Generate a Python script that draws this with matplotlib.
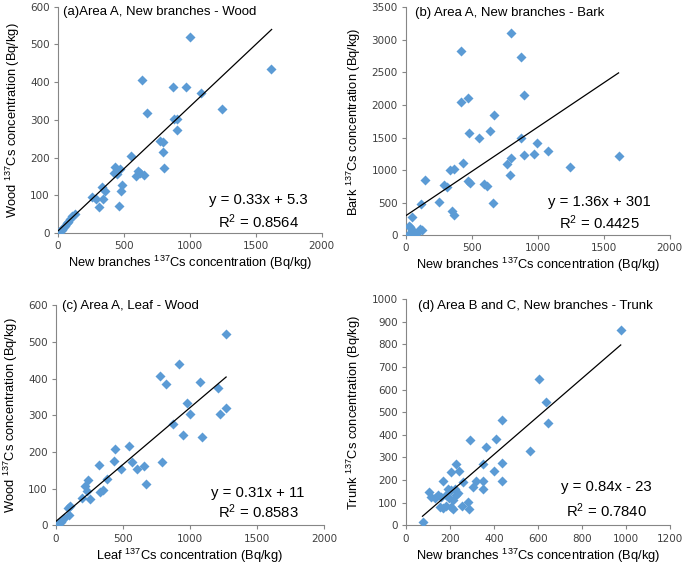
"""
Scatter plots of 137Cs concentrations between tree parts, with linear fits.
"""
import matplotlib
matplotlib.use("Agg")
import matplotlib.pyplot as plt

plt.rcParams["font.family"] = ["Liberation Sans", "DejaVu Sans"]
plt.rcParams["mathtext.default"] = "regular"

# (a) new branches vs wood
a_x = [1000, 1613, 640, 873, 970, 1081, 1240, 672, 879, 899, 899, 773, 793, 798, 806,
       551, 432, 470, 424, 444, 591, 609, 620, 654, 482, 475, 464, 331, 356, 343, 313,
       255, 288, 129, 104, 78, 53, 28, 10, 18, 40, 65, 90, 5]
a_y = [519, 436, 406, 388, 386, 372, 330, 319, 303, 303, 273, 245, 240, 214, 172,
       205, 176, 170, 160, 157, 152, 163, 158, 154, 126, 110, 72, 121, 110, 89, 70,
       95, 90, 50, 45, 30, 19, 8, 1, 4, 14, 25, 38, 2]
a_fit = (0.33, 5.3, 0, 1620)

# (b) new branches vs bark
b_x = [799, 418, 875, 893, 420, 468, 668, 476, 552, 635, 870, 991, 1080, 971, 898,
       797, 768, 788, 1246, 1612, 434, 333, 364, 144, 472, 485, 288, 308, 591, 616,
       657, 250, 111, 346, 364, 43, 30, 45, 36, 58, 104, 88, 119, 53, 15, 20]
b_y = [3110, 2826, 2742, 2151, 2048, 2100, 1840, 1575, 1498, 1602, 1498, 1410, 1296,
       1244, 1229, 1193, 1091, 917, 1044, 1218, 1111, 998, 1014, 855, 829, 804, 768,
       733, 779, 753, 487, 512, 476, 369, 307, 281, 118, 77, 26, 51, 90, 51, 77, 0,
       0, 140]
b_fit = (1.36, 301, 0, 1612)

# (c) leaf vs wood
c_x = [1267, 919, 775, 820, 1078, 1210, 975, 999, 1227, 1267, 876, 950, 1091, 789,
       547, 440, 433, 570, 323, 485, 607, 657, 672, 378, 328, 348, 216, 241, 229,
       192, 254, 104, 92, 99, 42, 25, 15, 5, 35, 60]
c_y = [521, 439, 407, 386, 390, 374, 333, 303, 304, 321, 276, 246, 241, 173, 216,
       207, 176, 173, 164, 155, 154, 162, 113, 126, 92, 96, 107, 124, 94, 74, 72,
       53, 46, 28, 14, 5, 2, 1, 9, 20]
c_fit = (0.31, 11, 0, 1270)

# (d) new branches vs trunk, areas B and C
d_x = [977, 605, 635, 644, 439, 565, 409, 364, 291, 435, 438, 402, 349, 349, 349,
       306, 318, 227, 203, 242, 167, 258, 104, 112, 132, 147, 160, 180, 190, 205,
       225, 236, 195, 215, 228, 155, 168, 183, 205, 213, 255, 281, 288, 78]
d_y = [864, 645, 547, 454, 465, 330, 380, 347, 377, 274, 197, 242, 270, 197, 159,
       171, 196, 271, 236, 239, 196, 190, 147, 127, 119, 134, 124, 132, 162, 156,
       162, 144, 119, 112, 134, 82, 75, 85, 80, 72, 85, 104, 71, 13]
d_fit = (0.84, -23, 75, 977)

panels = [
    dict(x=a_x, y=a_y, fit=a_fit, r2="0.8564", eq="y = 0.33x + 5.3",
         title="(a)Area A, New branches - Wood",
         xlabel="New branches $^{137}$Cs concentration (Bq/kg)",
         ylabel="Wood $^{137}$Cs concentration (Bq/kg)",
         xlim=(0, 2000), xstep=500, ylim=(0, 600), ystep=100,
         rect=[0.0847, 0.590, 0.385, 0.398], tpos=(0.02, 0.978), epos=(0.761, 0.146, 0.049)),
    dict(x=b_x, y=b_y, fit=b_fit, r2="0.4425", eq="y = 1.36x + 301",
         title="(b) Area A, New branches - Bark",
         xlabel="New branches $^{137}$Cs concentration (Bq/kg)",
         ylabel="Bark $^{137}$Cs concentration (Bq/kg)",
         xlim=(0, 2000), xstep=500, ylim=(0, 3500), ystep=500,
         rect=[0.5927, 0.586, 0.385, 0.401], tpos=(0.034, 0.974), epos=(0.735, 0.145, 0.053)),
    dict(x=c_x, y=c_y, fit=c_fit, r2="0.8583", eq="y = 0.31x + 11",
         title="(c) Area A, Leaf - Wood",
         xlabel="Leaf $^{137}$Cs concentration (Bq/kg)",
         ylabel="Wood $^{137}$Cs concentration (Bq/kg)",
         xlim=(0, 2000), xstep=500, ylim=(0, 600), ystep=100,
         rect=[0.0818, 0.0752, 0.391, 0.387], tpos=(0.022, 0.998), epos=(0.754, 0.147, 0.060)),
    dict(x=d_x, y=d_y, fit=d_fit, r2="0.7840", eq="y = 0.84x - 23",
         title="(d) Area B and C, New branches - Trunk",
         xlabel="New branches $^{137}$Cs concentration (Bq/kg)",
         ylabel="Trunk $^{137}$Cs concentration (Bq/kg)",
         xlim=(0, 1200), xstep=200, ylim=(0, 1000), ystep=100,
         rect=[0.5927, 0.0752, 0.385, 0.398], tpos=(0.045, 0.972), epos=(0.761, 0.169, 0.063)),
]

fig = plt.figure(figsize=(6.85, 5.68), dpi=100)
fig.patch.set_facecolor("white")

for p in panels:
    ax = fig.add_axes(p["rect"])
    ax.scatter(p["x"], p["y"], marker="D", s=26, color="#5b9bd5", linewidths=0, zorder=3)
    k, b, x0, x1 = p["fit"]
    ax.plot([x0, x1], [k * x0 + b, k * x1 + b], color="black", linewidth=0.9, zorder=4)

    ax.set_xlim(*p["xlim"])
    ax.set_ylim(*p["ylim"])
    ax.set_xticks(range(p["xlim"][0], p["xlim"][1] + 1, p["xstep"]))
    ax.set_yticks(range(p["ylim"][0], p["ylim"][1] + 1, p["ystep"]))
    for s in ["top", "right"]:
        ax.spines[s].set_visible(False)
    for s in ["left", "bottom"]:
        ax.spines[s].set_color("#868686")
        ax.spines[s].set_linewidth(0.8)
    ax.tick_params(direction="out", length=3, width=0.8, color="#868686",
                   labelsize=7.5, labelcolor="#404040", pad=3)
    for lab in ax.get_xticklabels() + ax.get_yticklabels():
        lab.set_family("DejaVu Sans")
    ax.set_xlabel(p["xlabel"], fontsize=9.3, labelpad=2)
    ax.set_ylabel(p["ylabel"], fontsize=9.3, labelpad=6)

    ax.text(p["tpos"][0], p["tpos"][1], p["title"], transform=ax.transAxes,
            fontsize=9.5, va="center", ha="left")
    ex, ey1, ey2 = p["epos"]
    ax.text(ex, ey1, p["eq"], transform=ax.transAxes, fontsize=10.7, ha="center", va="center")
    ax.text(ex, ey2, "R$^2$ = " + p["r2"], transform=ax.transAxes, fontsize=10.7,
            ha="center", va="center")

plt.savefig("out.png", dpi=100)
